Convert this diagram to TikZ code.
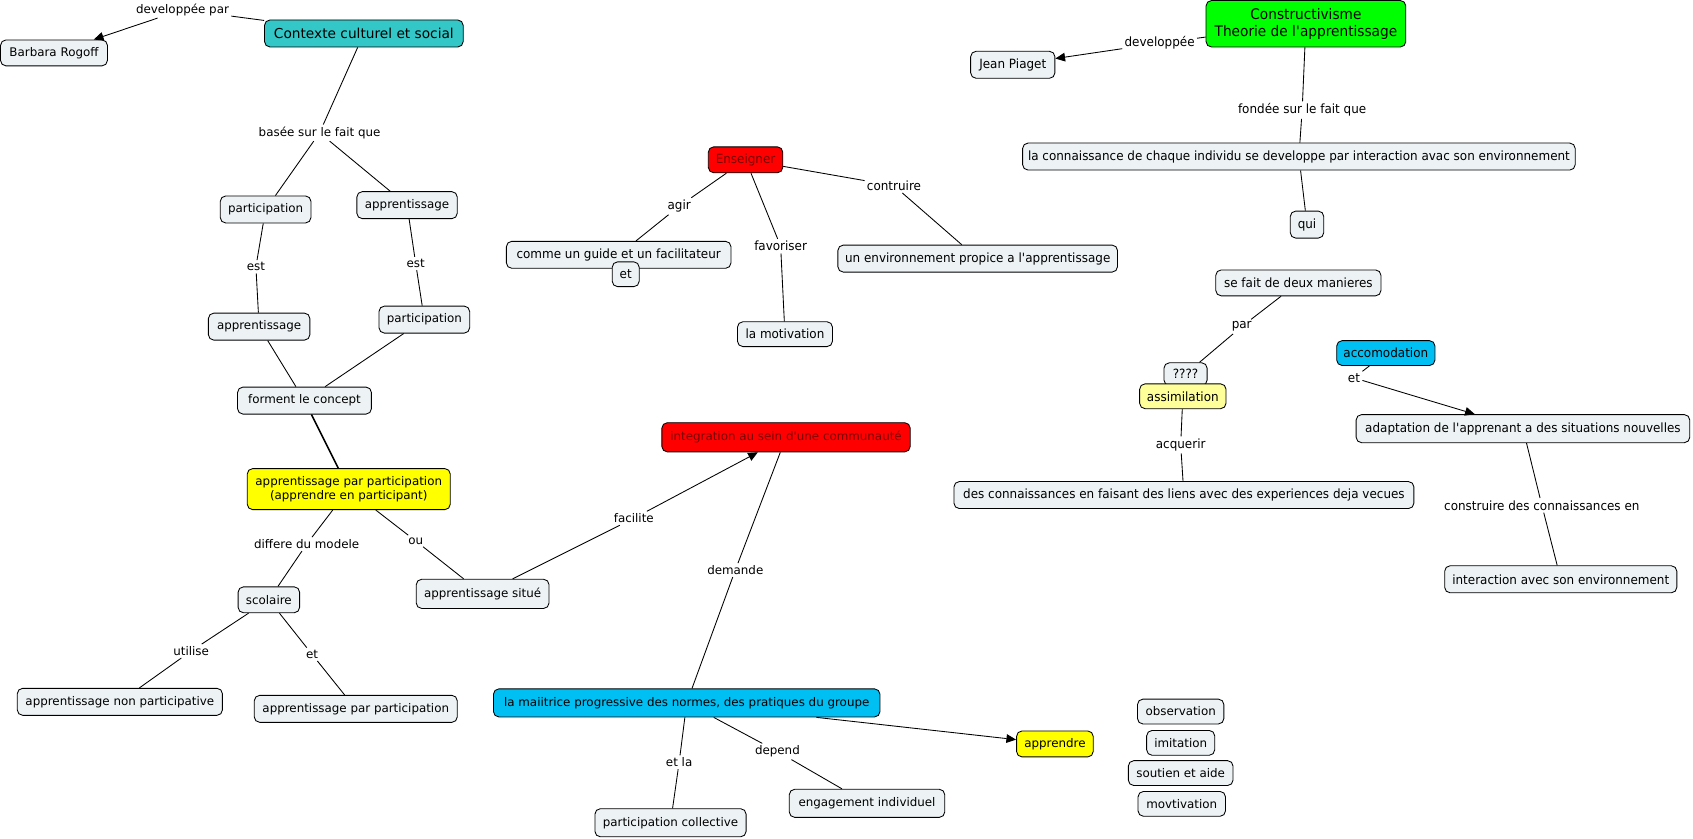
\documentclass[tikz,border=0pt]{standalone}
\usepackage{fontspec}
\setmainfont{DejaVu Sans}
\newfontfamily\condf[FakeStretch=0.94]{DejaVu Sans}
\usetikzlibrary{arrows.meta}
\definecolor{cbg}{HTML}{EDF3F5}
\definecolor{cteal}{HTML}{33C7C7}
\definecolor{cred}{HTML}{FF0000}
\definecolor{credtxt}{HTML}{7A0000}
\definecolor{cgreen}{HTML}{00FF00}
\definecolor{cyel}{HTML}{FFFF00}
\definecolor{clyel}{HTML}{FFFF99}
\definecolor{ccyan}{HTML}{00BFF3}
\tikzset{
  concept/.style={draw=black, line width=0.8pt, rounded corners=5pt, fill=cbg,
    minimum height=25pt, inner xsep=5pt, inner ysep=2pt,
    font=\fontsize{11}{13}\selectfont},
  cconcept/.style={concept, font=\condf\fontsize{11.8}{14}\selectfont},
  lbl/.style={inner sep=2pt, font=\fontsize{11}{13}\selectfont},
  clbl/.style={lbl, font=\condf\fontsize{11.8}{14}\selectfont},
  link/.style={draw, line width=0.8pt},
  arr/.style={link, -{Triangle[length=9pt,width=8pt]}},
}
\begin{document}
\begin{tikzpicture}[x=1pt,y=-1pt]
\useasboundingbox (0,0) rectangle (1568,777);

% ---------- left part ----------
\node[concept, minimum width=99pt, minimum height=24pt] (barbara) at (50,49) {Barbara Rogoff};
\node[concept, fill=cteal, minimum width=184pt, minimum height=25pt, font=\fontsize{12.7}{15}\selectfont] (contexte) at (337,31) {Contexte culturel et social};
\node[lbl] (ldevpar) at (169,9) {developpée par};
\node[lbl] (lbasee) at (296,123) {basée sur le fait que};
\node[concept, minimum width=84pt] (part1) at (246,194) {participation};
\node[concept, minimum width=93pt] (app1) at (377,190) {apprentissage};
\node[lbl] (lest1) at (237,247) {est};
\node[lbl] (lest2) at (385,244) {est};
\node[concept, minimum width=94pt] (app2) at (240,302.5) {apprentissage};
\node[concept, minimum width=84pt] (part2) at (393,296) {participation};
\node[concept, minimum width=124pt] (forment) at (282,371) {forment le concept};
\node[concept, fill=cyel, minimum width=188pt, minimum height=38pt, align=center] (apppp) at (323,453) {apprentissage par participation\\(apprendre en participant)};
\node[lbl] (ldiffere) at (284,504) {differe du modele};
\node[lbl] (lou) at (385,501) {ou};
\node[concept, minimum width=57pt, minimum height=24pt] (scolaire) at (249,555.5) {scolaire};
\node[lbl] (lutilise) at (177,603) {utilise};
\node[lbl] (let1) at (289,606) {et};
\node[concept, minimum width=190pt] (nonpart) at (111,650) {apprentissage non participative};
\node[concept, minimum width=188pt] (parpart) at (329.5,656.5) {apprentissage par participation};
\node[concept, minimum width=123pt, minimum height=27pt] (situe) at (447,550) {apprentissage situé};
\node[lbl] (lfacilite) at (587,480) {facilite};
\node[concept, fill=cred, text=credtxt, minimum width=230pt, minimum height=27pt] (integ) at (728,405) {integration au sein d\textquotesingle une communauté};
\node[lbl] (ldemande) at (681,528) {demande};
\node[concept, fill=ccyan, minimum width=358pt, minimum height=26pt] (maitrice) at (636,651) {la maiitrice progressive des normes, des pratiques du groupe};
\node[lbl] (letla) at (629,706) {et la};
\node[lbl] (ldepend) at (720,696) {depend};
\node[concept, minimum width=140pt, minimum height=26pt] (collective) at (621,762) {participation collective};
\node[concept, minimum width=144pt, minimum height=26pt] (engagement) at (803,744) {engagement individuel};
\node[concept, fill=cyel, minimum width=71pt, minimum height=24pt] (apprendre) at (977,689) {apprendre};
\node[concept, minimum width=80pt, minimum height=23pt] (obs) at (1093.5,659) {observation};
\node[concept, minimum width=63pt, minimum height=23pt] (imit) at (1093.5,688) {imitation};
\node[concept, minimum width=97pt, minimum height=23pt] (soutien) at (1093.5,716) {soutien et aide};
\node[concept, minimum width=81pt, minimum height=23pt] (movt) at (1094.5,744.5) {movtivation};

% ---------- Enseigner ----------
\node[cconcept, fill=cred, text=credtxt, minimum width=69pt, minimum height=24pt] (enseigner) at (690.5,148) {Enseigner};
\node[clbl] (lagir) at (629,191) {agir};
\node[cconcept, minimum width=208pt] (guide) at (573,236) {comme un guide et un facilitateur};
\node[cconcept, minimum width=25pt, minimum height=23pt, inner xsep=3pt] (etbox) at (579.5,254) {et};
\node[clbl] (lfavoriser) at (723,228) {favoriser};
\node[cconcept, minimum width=88pt, minimum height=23pt] (motivation) at (727,309.5) {la motivation};
\node[clbl] (lcontruire) at (828,172) {contruire};
\node[cconcept, minimum width=259pt] (environ) at (905.5,239.5) {un environnement propice a l\textquotesingle apprentissage};

% ---------- Constructivisme ----------
\node[cconcept, fill=cgreen, minimum width=185pt, minimum height=43pt, align=center, font=\condf\fontsize{13.5}{16}\selectfont] (constr) at (1209.5,22) {Constructivisme\\Theorie de l\textquotesingle apprentissage};
\node[clbl] (ldevel) at (1074,40) {developpée};
\node[cconcept, minimum width=78pt] (piaget) at (938,60) {Jean Piaget};
\node[clbl] (lfondee) at (1206,102) {fondée sur le fait que};
\node[cconcept, minimum width=510pt] (connaiss) at (1203,145) {la connaissance de chaque individu se developpe par interaction avac son environnement};
\node[cconcept, minimum width=31pt, inner xsep=3pt] (qui) at (1210.5,208) {qui};
\node[cconcept, minimum width=153pt, minimum height=24pt] (sefait) at (1202.5,262) {se fait de deux manieres};
\node[clbl] (lpar) at (1150,302.5) {par};
\node[cconcept, minimum width=40pt, minimum height=21pt, inner xsep=3pt] (qqq) at (1098,346.5) {????};
\node[cconcept, fill=clyel, minimum width=80pt, minimum height=23pt] (assim) at (1095.5,367) {assimilation};
\node[clbl] (lacquerir) at (1093.5,412) {acquerir};
\node[cconcept, minimum width=426pt] (desconn) at (1096.5,458.5) {des connaissances en faisant des liens avec des experiences deja vecues};
\node[cconcept, fill=ccyan, minimum width=91pt, minimum height=23pt] (accom) at (1283.5,327) {accomodation};
\node[clbl] (let2) at (1254,350) {et};
\node[cconcept, minimum width=309pt, minimum height=26pt] (adapt) at (1410.5,397) {adaptation de l\textquotesingle apprenant a des situations nouvelles};
\node[clbl] (lconstruire) at (1428,468) {construire des connaissances en};
\node[cconcept, minimum width=215pt] (interact) at (1445.5,536.5) {interaction avec son environnement};

% ---------- connectors ----------
\draw[link] (contexte) -- (ldevpar);
\draw[arr] (ldevpar) -- (barbara);
\draw[link] (contexte) -- (lbasee);
\draw[link] (lbasee) -- (part1);
\draw[link] (lbasee) -- (app1);
\draw[link] (part1) -- (lest1);
\draw[link] (lest1) -- (app2);
\draw[link] (app1) -- (lest2);
\draw[link] (lest2) -- (part2);
\draw[link] (app2) -- (forment);
\draw[link] (part2) -- (forment);
\draw[link, line width=1.5pt] (forment) -- (apppp);
\draw[link] (apppp) -- (ldiffere);
\draw[link] (ldiffere) -- (scolaire);
\draw[link] (apppp) -- (lou);
\draw[link] (lou) -- (situe);
\draw[link] (scolaire) -- (lutilise);
\draw[link] (lutilise) -- (nonpart);
\draw[link] (scolaire) -- (let1);
\draw[link] (let1) -- (parpart);
\draw[link] (situe) -- (lfacilite);
\draw[arr] (lfacilite) -- (integ);
\draw[link] (integ) -- (ldemande);
\draw[link] (ldemande) -- (maitrice);
\draw[link] (maitrice) -- (letla);
\draw[link] (letla) -- (collective);
\draw[link] (maitrice) -- (ldepend);
\draw[link] (ldepend) -- (engagement);
\draw[arr] (maitrice) -- (apprendre);

\draw[link] (enseigner) -- (lagir);
\draw[link] (lagir) -- (guide);
\draw[link] (enseigner) -- (lfavoriser);
\draw[link] (lfavoriser) -- (motivation);
\draw[link] (enseigner) -- (lcontruire);
\draw[link] (lcontruire) -- (environ);

\draw[link] (constr) -- (ldevel);
\draw[arr] (ldevel) -- (piaget);
\draw[link] (constr) -- (lfondee);
\draw[link] (lfondee) -- (connaiss);
\draw[link] (connaiss) -- (qui);
\draw[link] (sefait) -- (lpar);
\draw[link] (lpar) -- (qqq);
\draw[link] (assim) -- (lacquerir);
\draw[link] (lacquerir) -- (desconn);
\draw[link] (accom) -- (let2);
\draw[arr] (let2) -- (adapt);
\draw[link] (adapt) -- (lconstruire);
\draw[link] (lconstruire) -- (interact);
\end{tikzpicture}
\end{document}
